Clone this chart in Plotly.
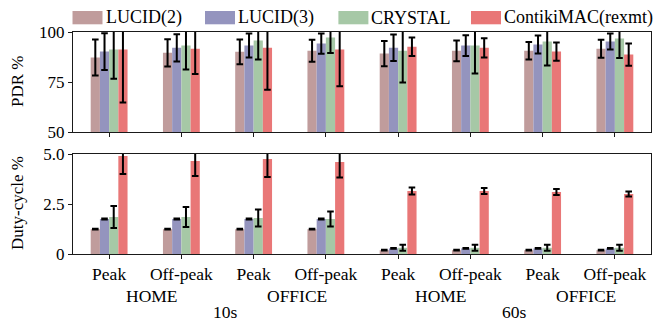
import plotly.graph_objects as go

# ---- data ---------------------------------------------------------------
series = ["LUCID(2)", "LUCID(3)", "CRYSTAL", "ContikiMAC(rexmt)"]
colors = ["#C09C9C", "#9494BE", "#A6C8A6", "#E97777"]

periods = ["Peak", "Off-peak", "Peak", "Off-peak", "Peak", "Off-peak", "Peak", "Off-peak"]
places = ["HOME", "OFFICE", "HOME", "OFFICE"]
intervals = ["10s", "60s"]

# PDR (%) per series, one value per condition
pdr = [
    [87.2, 89.6, 90.1, 90.6, 89.2, 90.6, 90.6, 91.6],
    [90.2, 92.1, 93.2, 94.2, 92.1, 93.2, 93.7, 95.2],
    [91.2, 93.2, 95.7, 97.2, 90.6, 93.2, 95.2, 96.7],
    [91.2, 91.6, 92.1, 91.2, 92.6, 92.1, 90.2, 88.7],
]
pdr_err = [
    [9.0, 6.8, 6.2, 5.5, 6.3, 5.2, 4.4, 4.5],
    [9.2, 6.8, 6.0, 5.1, 6.6, 5.2, 4.5, 4.0],
    [14.6, 12.0, 9.5, 7.7, 15.8, 14.0, 12.0, 9.7],
    [26.5, 12.6, 21.0, 18.3, 4.6, 4.8, 4.6, 5.6],
]

# Duty-cycle (%) per series
duty = [
    [1.24, 1.24, 1.24, 1.24, 0.19, 0.19, 0.19, 0.19],
    [1.75, 1.75, 1.75, 1.75, 0.28, 0.28, 0.28, 0.28],
    [1.85, 1.85, 1.8, 1.75, 0.31, 0.31, 0.31, 0.31],
    [4.9, 4.65, 4.75, 4.6, 3.15, 3.15, 3.1, 3.0],
]
duty_err = [
    [0.02, 0.02, 0.02, 0.02, 0.02, 0.02, 0.02, 0.02],
    [0.02, 0.02, 0.02, 0.02, 0.02, 0.02, 0.02, 0.02],
    [0.55, 0.5, 0.43, 0.38, 0.15, 0.15, 0.15, 0.15],
    [0.9, 0.75, 0.9, 0.77, 0.17, 0.15, 0.15, 0.13],
]

# ---- figure geometry (pixels) ------------------------------------------
W, H = 654, 324
ML, MR, MT, MB = 73, 3, 32, 70
PW, PH = W - ML - MR, H - MT - MB
FONT = "Liberation Serif"


def px_x(px):
    return (px - ML) / PW


def px_y(py):
    return (H - MB - py) / PH


fig = go.Figure()
xs = list(range(len(periods)))

for i, name in enumerate(series):
    common = dict(
        name=name,
        marker=dict(color=colors[i], line=dict(width=0)),
        showlegend=False,
    )
    fig.add_trace(go.Bar(
        x=xs, y=pdr[i], xaxis="x", yaxis="y",
        error_y=dict(type="data", array=pdr_err[i], color="black",
                     thickness=2, width=3.3),
        offsetgroup=str(i), **common))
    fig.add_trace(go.Bar(
        x=xs, y=duty[i], xaxis="x2", yaxis="y2",
        error_y=dict(type="data", array=duty_err[i], color="black",
                     thickness=2, width=3.3),
        offsetgroup=str(i), **common))

axis_common = dict(
    showline=True, mirror=True, linecolor="#1a1a1a", linewidth=1.2,
    showgrid=False, zeroline=False, ticks="outside", ticklen=4,
    tickcolor="#1a1a1a", tickwidth=1.2,
)

top_lo = px_y(132)
bot_hi = px_y(154)

fig.update_layout(
    width=W, height=H,
    margin=dict(l=ML, r=MR, t=MT, b=MB, pad=0),
    paper_bgcolor="white", plot_bgcolor="white",
    barmode="group", bargap=0.49, bargroupgap=0,
    font=dict(family=FONT, size=17, color="black"),
    xaxis=dict(range=[-0.5, 7.5], tickvals=xs, showticklabels=False,
               anchor="y", **axis_common),
    yaxis=dict(domain=[top_lo, 1], range=[50, 100], tickvals=[50, 75, 100],
               anchor="x", tickfont=dict(size=17), **axis_common),
    xaxis2=dict(range=[-0.5, 7.5], tickvals=xs, ticktext=periods,
                anchor="y2", tickfont=dict(size=17.5), **axis_common),
    yaxis2=dict(domain=[0, bot_hi], range=[0, 5], tickvals=[0, 2.5, 5],
                ticktext=["0", "2.5", "5.0"], anchor="x2",
                tickfont=dict(size=17), **axis_common),
    showlegend=False,
)

annotations = []
shapes = []


def label(text, x, y, xref="paper", size=17.5, **kw):
    d = dict(text=text, xref=xref, yref="paper", x=x, y=y,
             xanchor="center", yanchor="middle", showarrow=False,
             borderpad=0, font=dict(family=FONT, size=size))
    d.update(kw)
    annotations.append(d)


# y-axis titles
label("PDR %", px_x(17), px_y(82), size=17, textangle=-90)
label("Duty-cycle %", px_x(17), px_y(203), size=17, textangle=-90)

# place labels under each pair of periods, interval labels under each half
for j, place in enumerate(places):
    label(place, 2 * j + 0.5, px_y(296), xref="x2", xshift=7)
for k, iv in enumerate(intervals):
    label(iv, 4 * k + 1.5, px_y(312), xref="x2", xshift=8)

# legend row along the top
legend_x = [72.5, 205, 338.4, 471]
for i, name in enumerate(series):
    x0 = legend_x[i]
    shapes.append(dict(type="rect", xref="paper", yref="paper",
                       x0=px_x(x0), x1=px_x(x0 + 30),
                       y0=px_y(24.3), y1=px_y(11),
                       fillcolor=colors[i], line=dict(width=0)))
    label(name, px_x(x0 + 32), px_y(18), size=18, xanchor="left")

fig.update_layout(annotations=annotations, shapes=shapes)

fig.write_html("out.html")
